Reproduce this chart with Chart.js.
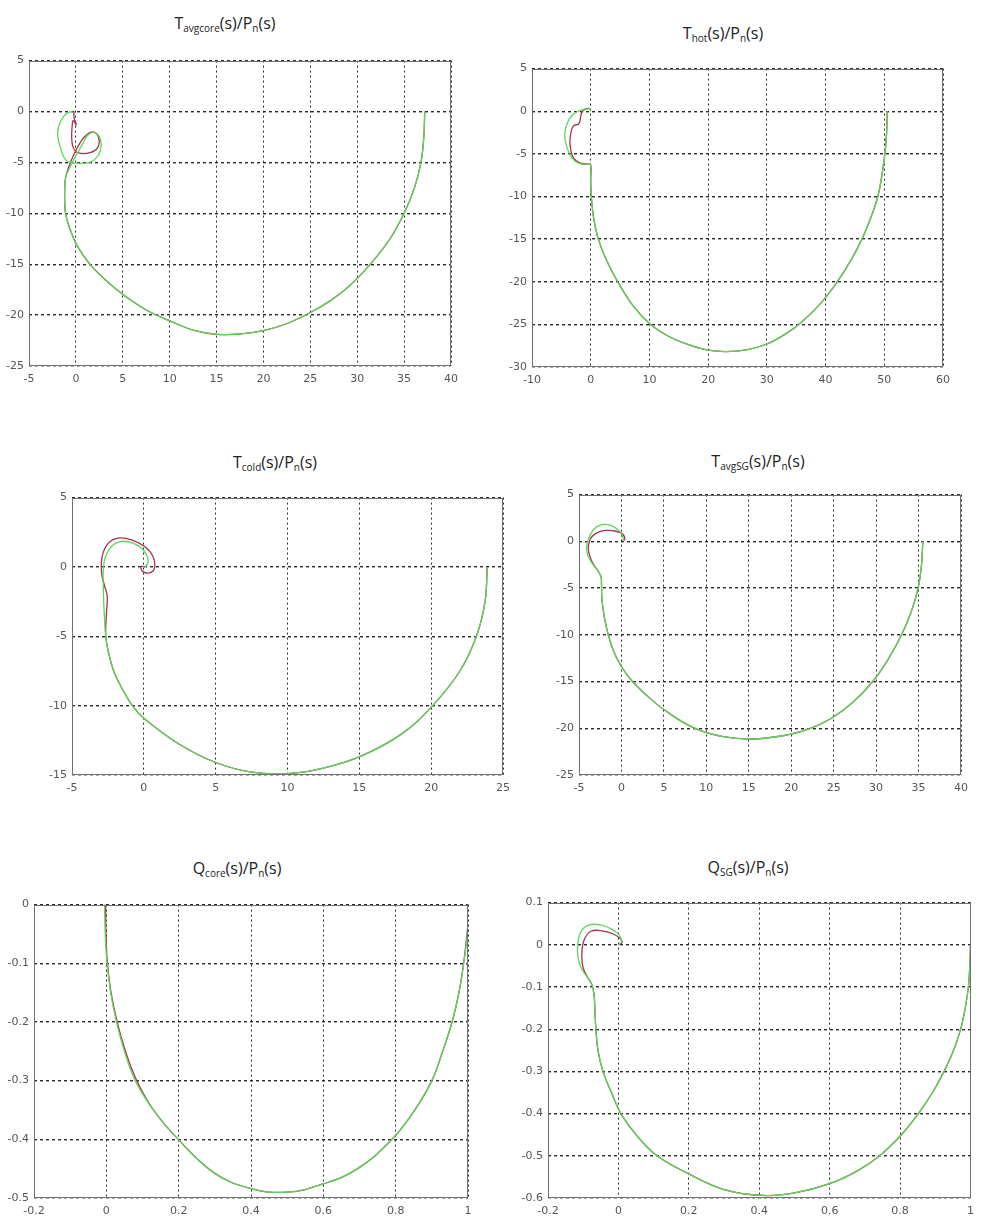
<!DOCTYPE html>
<html>
<head>
<meta charset="utf-8">
<script src="https://cdn.jsdelivr.net/npm/chart.js@4.4.1/dist/chart.umd.min.js"></script>
<style>
  body { margin: 0; background: #fff; width: 981px; height: 1221px; overflow: hidden; position: relative; }
  .plot { position: absolute; }
  .title { position: absolute; transform: translateX(-50%); font-family: "Open Sans", sans-serif; font-size: 16px; color: #222; white-space: nowrap; line-height: 22px; }
  .title sub { font-size: 10px; vertical-align: -3px; line-height: 0; }
</style>
</head>
<body>

<div class="title" style="left:225px; top:12px;">T<sub>avgcore</sub>(s)/P<sub>n</sub>(s)</div>
<div class="title" style="left:723px; top:22px;">T<sub>hot</sub>(s)/P<sub>n</sub>(s)</div>
<div class="title" style="left:275px; top:451px;">T<sub>cold</sub>(s)/P<sub>n</sub>(s)</div>
<div class="title" style="left:758px; top:450px;">T<sub>avgSG</sub>(s)/P<sub>n</sub>(s)</div>
<div class="title" style="left:237px; top:857px;">Q<sub>core</sub>(s)/P<sub>n</sub>(s)</div>
<div class="title" style="left:748px; top:856px;">Q<sub>SG</sub>(s)/P<sub>n</sub>(s)</div>

<div class="plot" id="p1"><canvas id="c1"></canvas></div>
<div class="plot" id="p2"><canvas id="c2"></canvas></div>
<div class="plot" id="p3"><canvas id="c3"></canvas></div>
<div class="plot" id="p4"><canvas id="c4"></canvas></div>
<div class="plot" id="p5"><canvas id="c5"></canvas></div>
<div class="plot" id="p6"><canvas id="c6"></canvas></div>

<script>
// axis ranges: [min, max, step]
var avgcoreX = [-5, 40, 5],   avgcoreY = [-25, 5, 5];
var hotX = [-10, 60, 10],     hotY = [-30, 5, 5];
var coldX = [-5, 25, 5],      coldY = [-15, 5, 5];
var avgsgX = [-5, 40, 5],     avgsgY = [-25, 5, 5];
var qcoreX = [-0.2, 1, 0.2],  qcoreY = [-0.5, 0, 0.1];
var qsgX = [-0.2, 1, 0.2],    qsgY = [-0.6, 0.1, 0.1];

// Nyquist curves, [Re, Im] from w = 0 towards w -> inf
var avgcoreArc = [[37.2, 0], [37.1, -2.5], [36.8, -5], [36.1, -7.5], [35.0, -10], [33.5, -12.5], [31.4, -15],
  [29.1, -17.2], [27.1, -18.6], [25.1, -19.7], [22.6, -20.8], [20.1, -21.5], [17.6, -21.85], [15.1, -21.9],
  [12.6, -21.5], [10.1, -20.6], [7.7, -19.6], [5.2, -18.1], [3.1, -16.5], [1.4, -14.9], [0.15, -13.2],
  [-0.65, -11.5], [-1.1, -10], [-1.2, -8], [-1.1, -6.5]];
var avgcoreGreen = [[-0.6, -5.4], [-0.15, -4.6], [0.7, -3.2], [1.2, -2.4], [1.8, -2.05], [2.45, -2.4],
  [2.7, -3.3], [2.4, -4.3], [1.6, -4.95], [0.7, -5.1], [-0.2, -5.05], [-1.05, -4.8], [-1.6, -3.7],
  [-1.95, -2.1], [-1.6, -0.9], [-1.0, -0.2], [-0.35, 0.05]];
var avgcoreRed = [[-0.7, -5.3], [-0.3, -4.4], [0.3, -3.3], [1.0, -2.4], [1.8, -2.0], [2.4, -2.5],
  [2.35, -3.5], [1.5, -4.05], [0.2, -4.05], [-0.3, -3.5], [-0.45, -2.5], [-0.4, -1.5], [-0.3, -0.9],
  [0.05, -1.3], [-0.2, -0.6], [-0.2, 0]];

var hotArc = [[50.5, 0], [50.4, -2.5], [50.1, -5], [49.6, -7.5], [48.9, -10], [47.7, -12.5], [46.2, -15],
  [44.3, -17.5], [42.0, -20], [39.2, -22.5], [35.8, -24.8], [33, -26.2], [30, -27.3], [26.5, -28.0],
  [23, -28.2], [19.8, -28.0], [16.3, -27.3], [13, -26.3], [10, -24.9], [7.2, -22.8], [4.6, -20],
  [2.7, -17.5], [1.3, -15], [0.5, -12.5], [0.1, -10], [0, -8], [0, -6.3]];
var hotGreen = [[-0.3, -6.2], [-1.5, -6.2], [-2.6, -5.9], [-3.6, -5.0], [-4.3, -3.6], [-4.4, -2.5],
  [-4.0, -1.4], [-3.2, -0.5], [-2.3, -0.05], [-1.3, 0.2], [-0.3, 0.35], [0, 0]];
var hotRed = [[-0.5, -6.2], [-1.9, -6.05], [-2.9, -5.5], [-3.35, -4.7], [-3.55, -3.5], [-3.3, -2.3],
  [-2.9, -1.7], [-2.0, -1.45], [-1.7, -0.6], [-1.5, -0.1], [-1.0, 0.2], [-0.2, 0.3], [0, 0]];

var coldArc = [[23.9, 0], [23.75, -2.5], [23.15, -5], [22.0, -7.5], [20.1, -10], [18.0, -12.0], [15.2, -13.6],
  [12.5, -14.5], [10, -14.9], [7.5, -14.8], [5, -14.1], [2.5, -12.8], [0, -10.9], [-0.8, -10],
  [-1.6, -8.6], [-2.1, -7.5], [-2.45, -6.2], [-2.65, -5]];
var coldGreen = [[-2.75, -3.5], [-2.8, -2.3], [-2.83, -1.2], [-2.83, -0.43], [-2.7, 0.65], [-2.25, 1.48],
  [-1.56, 1.84], [-0.75, 1.72], [-0.17, 1.36], [0.18, 0.88], [0.3, 0.4], [0.1, 0.0], [0, 0]];
var coldRed = [[-2.6, -3.3], [-2.55, -2.1], [-2.75, -1.3], [-2.94, -0.43], [-2.9, 0.77], [-2.48, 1.7],
  [-1.8, 2.08], [-0.86, 1.96], [0.06, 1.48], [0.63, 0.77], [0.75, -0.07], [0.4, -0.43], [-0.1, -0.3],
  [-0.2, 0.05], [0, 0]];

var avgsgArc = [[35.5, 0], [35.35, -2.5], [34.95, -5], [34.15, -7.5], [33.0, -10], [31.5, -12.5], [29.6, -15],
  [27.3, -17.2], [24.8, -18.9], [22.0, -20.1], [19.0, -20.8], [15.5, -21.15], [12.0, -20.9], [8.4, -19.9],
  [5.0, -18.0], [3.0, -16.5], [1.3, -15], [0, -13.4], [-0.95, -11.7], [-1.55, -10], [-2.0, -8.2],
  [-2.3, -6.2], [-2.35, -4.5], [-2.4, -3.8]];
var avgsgGreen = [[-2.73, -3.2], [-3.5, -2.3], [-4.1, -1.06], [-3.9, 0.18], [-3.3, 1.24], [-2.34, 1.78],
  [-1.17, 1.67], [-0.2, 1.06], [0.19, 0.35], [0.2, 0]];
var avgsgRed = [[-2.73, -3.2], [-3.4, -2.3], [-3.9, -0.9], [-3.7, 0.2], [-3.1, 0.8], [-2.15, 1.14],
  [-1.0, 1.14], [0.0, 0.88], [0.4, 0.35], [0.2, 0]];

var qcoreGreen = [[1, 0], [0.998, -0.05], [0.988, -0.1], [0.975, -0.15], [0.956, -0.2], [0.93, -0.25],
  [0.9, -0.3], [0.853, -0.35], [0.79, -0.4], [0.695, -0.45], [0.6, -0.476], [0.5, -0.49], [0.4, -0.484],
  [0.3, -0.458], [0.2, -0.401], [0.13, -0.35], [0.08, -0.3], [0.05, -0.25], [0.028, -0.2], [0.012, -0.15],
  [0.002, -0.1], [-0.003, -0.05], [-0.005, 0]];
var qcoreRed = [[1, -0.035], [0.988, -0.1], [0.975, -0.15], [0.956, -0.2], [0.93, -0.25],
  [0.9, -0.3], [0.853, -0.35], [0.79, -0.4], [0.695, -0.45], [0.6, -0.476], [0.5, -0.49], [0.4, -0.484],
  [0.3, -0.458], [0.2, -0.401], [0.13, -0.35], [0.084, -0.3], [0.053, -0.25], [0.03, -0.2], [0.013, -0.15],
  [0.003, -0.1], [-0.001, -0.05], [-0.002, 0]];

var qsgArc = [[1, 0], [0.998, -0.05], [0.994, -0.1], [0.985, -0.15], [0.972, -0.2], [0.952, -0.25],
  [0.925, -0.3], [0.892, -0.35], [0.852, -0.4], [0.805, -0.449], [0.742, -0.5], [0.68, -0.535], [0.6, -0.566],
  [0.5, -0.588], [0.41, -0.594], [0.3, -0.58], [0.2, -0.543], [0.11, -0.5], [0.05, -0.45], [0.007, -0.4],
  [-0.02, -0.35], [-0.044, -0.3], [-0.058, -0.25], [-0.064, -0.2], [-0.067, -0.15], [-0.069, -0.12]];
var qsgGreen = [[-0.075, -0.095], [-0.087, -0.078], [-0.106, -0.055], [-0.115, -0.027], [-0.115, 0.004],
  [-0.106, 0.032], [-0.083, 0.047], [-0.05, 0.047], [-0.017, 0.036], [0.001, 0.024], [0.009, 0.008], [0, 0]];
var qsgRed = [[-0.075, -0.095], [-0.087, -0.078], [-0.1, -0.055], [-0.104, -0.025], [-0.098, 0.01],
  [-0.078, 0.032], [-0.045, 0.033], [-0.013, 0.025], [0.006, 0.014], [0.01, 0.005], [0, 0]];

var GREEN = '#5cd65c';
var RED = '#a8324a';

// box around the plot area, like a matlab axes
var frameBox = {
  id: 'frameBox',
  afterDraw: function (chart) {
    var a = chart.chartArea;
    var c = chart.ctx;
    c.save();
    c.strokeStyle = '#707070';
    c.lineWidth = 1;
    c.strokeRect(Math.round(a.left) + 0.5, Math.round(a.top) + 0.5,
      Math.round(a.right - a.left) - 1, Math.round(a.bottom - a.top) - 1);
    c.restore();
  }
};

function toPoints(list) {
  return list.map(function (p) { return { x: p[0], y: p[1] }; });
}

// matlab style labels: 0, 1, -0.2 rather than 0.0, 1.0
function tickText(value) {
  var v = Math.round(value * 1000) / 1000;
  if (v === 0) return '0';
  return String(v);
}

function axisOpts(range, isY, padY, padX) {
  return {
    type: 'linear',
    min: range[0],
    max: range[1],
    ticks: {
      stepSize: range[2],
      autoSkip: false,
      maxRotation: 0,
      color: '#555',
      padding: isY ? 5 : 7,
      font: { family: 'DejaVu Sans', size: 11 },
      callback: tickText
    },
    grid: {
      color: '#2a2a2a',
      lineWidth: isY ? 1.4 : 1,
      drawTicks: false
    },
    border: { display: false, dash: isY ? [3, 3] : [2, 3] },
    afterFit: function (scale) {
      if (isY) scale.width = padX; else scale.height = padY;
    }
  };
}

function drawNyquist(n, box, xRange, yRange, green, red) {
  var padL = 40, padT = 10, padB = 24, padR = box.padR;
  var w = box.r - box.l + padL + padR;
  var h = box.b - box.t + padT + padB;
  var wrap = document.getElementById('p' + n);
  wrap.style.left = (box.l - padL) + 'px';
  wrap.style.top = (box.t - padT) + 'px';
  var canvas = document.getElementById('c' + n);
  canvas.width = w;
  canvas.height = h;
  canvas.style.width = w + 'px';
  canvas.style.height = h + 'px';

  var line = { showLine: true, pointRadius: 0, borderWidth: 1.3, tension: 0.4, fill: false };
  new Chart(canvas.getContext('2d'), {
    type: 'scatter',
    data: {
      datasets: [
        Object.assign({ data: toPoints(green), borderColor: GREEN }, line),
        Object.assign({ data: toPoints(red), borderColor: RED }, line)
      ]
    },
    options: {
      responsive: false,
      animation: false,
      events: [],
      layout: { padding: { top: padT, right: padR, left: 0, bottom: 0 } },
      plugins: { legend: { display: false }, tooltip: { enabled: false } },
      scales: {
        x: axisOpts(xRange, false, padB, padL),
        y: axisOpts(yRange, true, padB, padL)
      }
    },
    plugins: [frameBox]
  });
}

drawNyquist(1, { l: 29, t: 59, r: 453, b: 366, padR: 12 }, avgcoreX, avgcoreY,
  avgcoreArc.concat(avgcoreGreen), avgcoreArc.concat(avgcoreRed));
drawNyquist(2, { l: 532, t: 67, r: 945, b: 367, padR: 12 }, hotX, hotY,
  hotArc.concat(hotGreen), hotArc.concat(hotRed));
drawNyquist(3, { l: 72, t: 496, r: 505, b: 775, padR: 12 }, coldX, coldY,
  coldArc.concat(coldGreen), coldArc.concat(coldRed));
drawNyquist(4, { l: 579, t: 493, r: 963, b: 775, padR: 12 }, avgsgX, avgsgY,
  avgsgArc.concat(avgsgGreen), avgsgArc.concat(avgsgRed));
drawNyquist(5, { l: 34, t: 903, r: 468, b: 1198, padR: 12 }, qcoreX, qcoreY, qcoreGreen, qcoreRed);
drawNyquist(6, { l: 548, t: 901, r: 977, b: 1198, padR: 4 }, qsgX, qsgY,
  qsgArc.concat(qsgGreen), qsgArc.concat(qsgRed));
</script>
</body>
</html>
